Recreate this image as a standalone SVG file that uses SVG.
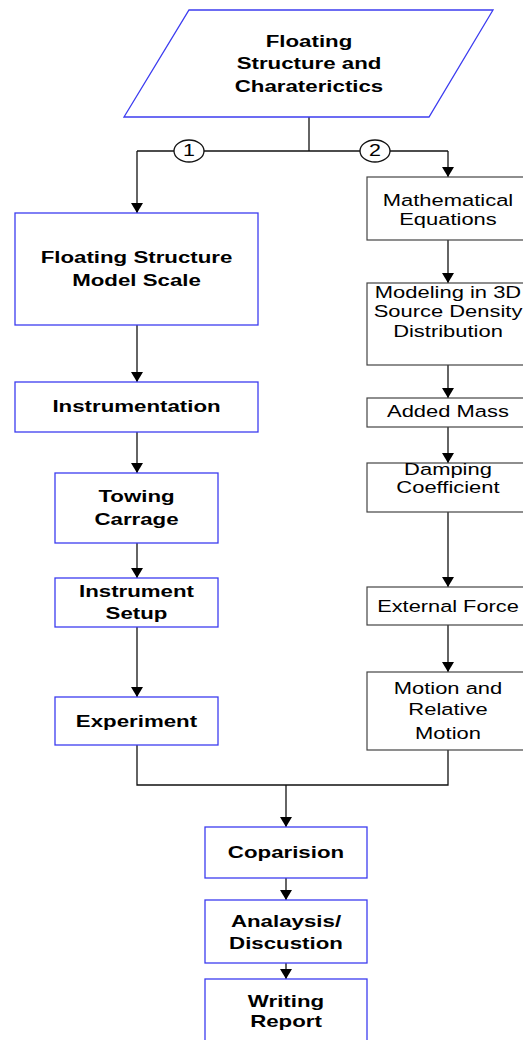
<svg xmlns="http://www.w3.org/2000/svg" width="523" height="1040" viewBox="0 0 523 1040">
<style>
.bb{fill:#fff;stroke:#3c3cf0;stroke-width:1.3}
.gb{fill:#fff;stroke:#444;stroke-width:1.2}
.tb{font-family:"Liberation Sans",Arial,sans-serif;font-size:16.5px;font-weight:bold;text-anchor:middle;fill:#000}
.tr{font-family:"Liberation Sans",Arial,sans-serif;font-size:16.5px;text-anchor:middle;fill:#000}
.ln{fill:none;stroke:#111;stroke-width:1.3}
</style>
<defs>
<marker id="ah" markerUnits="userSpaceOnUse" markerWidth="10" markerHeight="12" refX="10" refY="6" orient="auto" viewBox="0 0 10 12">
<path d="M0,0 L10,6 L0,12 Z" fill="#000"/>
</marker>
</defs>
<g id="connectors">
<line class="ln" x1="309" y1="117" x2="309" y2="151"/>
<line class="ln" x1="137" y1="151" x2="448" y2="151"/>
<path class="ln" d="M137,151 V213" marker-end="url(#ah)"/>
<path class="ln" d="M448,151 V177" marker-end="url(#ah)"/>
<path class="ln" d="M137,325 V382" marker-end="url(#ah)"/>
<path class="ln" d="M137,432 V473" marker-end="url(#ah)"/>
<path class="ln" d="M137,543 V578" marker-end="url(#ah)"/>
<path class="ln" d="M137,627 V697" marker-end="url(#ah)"/>
<path class="ln" d="M137,745 V785 H448 V750"/>
<path class="ln" d="M286,785 V827" marker-end="url(#ah)"/>
<path class="ln" d="M286,878 V900" marker-end="url(#ah)"/>
<path class="ln" d="M286,963 V979" marker-end="url(#ah)"/>
<path class="ln" d="M448,240 V283" marker-end="url(#ah)"/>
<path class="ln" d="M448,365 V398" marker-end="url(#ah)"/>
<path class="ln" d="M448,427 V463" marker-end="url(#ah)"/>
<path class="ln" d="M448,512 V587" marker-end="url(#ah)"/>
<path class="ln" d="M448,625 V672" marker-end="url(#ah)"/>
<g id="label1">
<ellipse cx="189" cy="151" rx="15" ry="11" fill="#fff" stroke="#111" stroke-width="1.3"/>
<g transform="translate(189 0) scale(1.3 1)"><text class="tr" x="0" y="156.5">1</text></g>
</g>
<g id="label2">
<ellipse cx="375" cy="151" rx="15" ry="11" fill="#fff" stroke="#111" stroke-width="1.3"/>
<g transform="translate(375 0) scale(1.3 1)"><text class="tr" x="0" y="156.5">2</text></g>
</g>
</g>
<g id="n-start">
<polygon points="189,10 493,10 429,117 124,117" fill="#fff" stroke="#3c3cf0" stroke-width="1.3"/>
<g transform="translate(309 0) scale(1.35 1)">
<text class="tb" x="0" y="47">Floating</text>
<text class="tb" x="0" y="69.5">Structure and</text>
<text class="tb" x="0" y="92">Charaterictics</text>
</g>
</g>
<g id="n-model">
<rect class="bb" x="15" y="213" width="243" height="112"/>
<g transform="translate(136.5 0) scale(1.35 1)">
<text class="tb" x="0" y="263">Floating Structure</text>
<text class="tb" x="0" y="286">Model Scale</text>
</g>
</g>
<g id="n-instr">
<rect class="bb" x="15" y="382" width="243" height="50"/>
<g transform="translate(136.5 0) scale(1.35 1)"><text class="tb" x="0" y="412.5">Instrumentation</text></g>
</g>
<g id="n-towing">
<rect class="bb" x="55" y="473" width="163" height="70"/>
<g transform="translate(136.5 0) scale(1.35 1)">
<text class="tb" x="0" y="502.5">Towing</text>
<text class="tb" x="0" y="525">Carrage</text>
</g>
</g>
<g id="n-setup">
<rect class="bb" x="55" y="578" width="163" height="49"/>
<g transform="translate(136.5 0) scale(1.35 1)">
<text class="tb" x="0" y="597.5">Instrument</text>
<text class="tb" x="0" y="619.5">Setup</text>
</g>
</g>
<g id="n-exp">
<rect class="bb" x="55" y="697" width="163" height="48"/>
<g transform="translate(136.5 0) scale(1.35 1)"><text class="tb" x="0" y="727">Experiment</text></g>
</g>
<g id="n-math">
<rect class="gb" x="367" y="177" width="162" height="63"/>
<g transform="translate(448 0) scale(1.33 1)">
<text class="tr" x="0" y="206">Mathematical</text>
<text class="tr" x="0" y="225">Equations</text>
</g>
</g>
<g id="n-3d">
<rect class="gb" x="367" y="283" width="162" height="82"/>
<g transform="translate(448 0) scale(1.33 1)">
<text class="tr" x="0" y="298">Modeling in 3D</text>
<text class="tr" x="0" y="317.5">Source Density</text>
<text class="tr" x="0" y="337">Distribution</text>
</g>
</g>
<g id="n-mass">
<rect class="gb" x="367" y="398" width="162" height="29"/>
<g transform="translate(448 0) scale(1.33 1)"><text class="tr" x="0" y="417">Added Mass</text></g>
</g>
<g id="n-damp">
<rect class="gb" x="367" y="463" width="162" height="49"/>
<g transform="translate(448 0) scale(1.33 1)">
<text class="tr" x="0" y="475.5">Damping</text>
<text class="tr" x="0" y="493.5">Coefficient</text>
</g>
</g>
<g id="n-ext">
<rect class="gb" x="367" y="587" width="162" height="38"/>
<g transform="translate(448 0) scale(1.32 1)"><text class="tr" x="0" y="612">External Force</text></g>
</g>
<g id="n-motion">
<rect class="gb" x="367" y="672" width="162" height="78"/>
<g transform="translate(448 0) scale(1.33 1)">
<text class="tr" x="0" y="694">Motion and</text>
<text class="tr" x="0" y="715">Relative</text>
<text class="tr" x="0" y="739">Motion</text>
</g>
</g>
<g id="n-comp">
<rect class="bb" x="205" y="827" width="162" height="51"/>
<g transform="translate(286 0) scale(1.35 1)"><text class="tb" x="0" y="858.5">Coparision</text></g>
</g>
<g id="n-anal">
<rect class="bb" x="205" y="900" width="162" height="63"/>
<g transform="translate(286 0) scale(1.35 1)">
<text class="tb" x="0" y="927">Analaysis/</text>
<text class="tb" x="0" y="949.5">Discustion</text>
</g>
</g>
<g id="n-report">
<rect class="bb" x="205" y="979" width="162" height="70"/>
<g transform="translate(286 0) scale(1.35 1)">
<text class="tb" x="0" y="1007">Writing</text>
<text class="tb" x="0" y="1027">Report</text>
</g>
</g>
</svg>
